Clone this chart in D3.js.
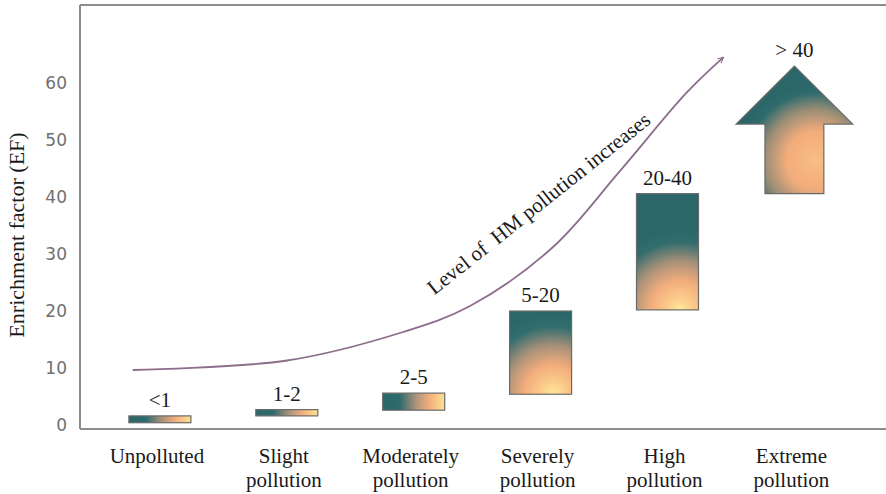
<!DOCTYPE html>
<html>
<head>
<meta charset="utf-8">
<script src="https://cdn.jsdelivr.net/npm/d3@7"></script>
<style>
  html, body { margin: 0; padding: 0; background: #fff; }
  svg { display: block; }
</style>
</head>
<body>
<svg id="chart" width="886" height="494"></svg>
<script>
// ---------------- data ----------------
const categories = ["Unpolluted", "Slight pollution", "Moderately pollution", "Severely pollution", "High pollution", "Extreme pollution"];
const categoryLines = [["Unpolluted"], ["Slight", "pollution"], ["Moderately", "pollution"], ["Severely", "pollution"], ["High", "pollution"], ["Extreme", "pollution"]];
const rangeLabels = ["<1", "1-2", "2-5", "5-20", "20-40", "> 40"];
const lowValues  = [0.4, 1.6, 2.6, 5.4, 20.2, 40.6];
const highValues = [1.6, 2.7, 5.6, 20.0, 40.6, 63.0];
const arrowHeadBase = 52.8;          // EF value where the arrow head starts (last category)
const yTicks = [0, 10, 20, 30, 40, 50, 60];
const yDomain = [-0.7, 73.7];
// trend curve: category position (index) and EF value of each point
const curveIdx = [-0.214, 1.002, 1.916, 2.444, 3.098, 3.626, 4.154, 4.440];
const curveEF  = [9.65, 11.32, 16.32, 20.88, 31.23, 44.6, 58.4, 64.52];
const curveText = "Level of  HM pollution increases";
const curveTextAt = [3.02, 37.9];
const yTitle = "Enrichment factor (EF)";

(function () {
// ---------------- layout ----------------
const svg = d3.select("#chart");
const mLeft = 80, mTop = 5, mBottom = 429, mRight = 886;
const serif = "'Liberation Serif', 'Times New Roman', Times, serif";

const x = d3.scaleBand().domain(categories).range([96.45, 857.85])
  .paddingInner(0.5114).paddingOuter(0.2557);
const y = d3.scaleLinear().domain(yDomain).range([mBottom, mTop]);
const bw = x.bandwidth();
const step = x.step();
const cx0 = x(categories[0]) + bw / 2;
const xPos = i => cx0 + i * step;

const defs = svg.append("defs");
const tallStops = [[0, "#fee89b"], [0.16, "#fbcb8a"], [0.36, "#f3ad7c"], [0.6, "#a99179"], [0.84, "#336d6e"], [1, "#2b6769"]];
const thinStops = [[0, "#2a6769"], [0.28, "#2f6b6d"], [0.55, "#b3957a"], [0.76, "#f4b07e"], [1, "#fce392"]];
const arrowStops = [[0, "#f8bd86"], [0.38, "#f2ac7b"], [0.66, "#9a8d76"], [0.88, "#2f6b6d"], [1, "#2b6769"]];
const addStops = (g, st) => st.forEach(s => g.append("stop").attr("offset", s[0]).attr("stop-color", s[1]));

defs.append("marker").attr("id", "arrowEnd")
  .attr("viewBox", "0 0 10 10").attr("refX", 9).attr("refY", 5)
  .attr("markerWidth", 7).attr("markerHeight", 7).attr("markerUnits", "userSpaceOnUse")
  .attr("orient", "auto")
  .append("path").attr("d", "M1,1 L9,5 L1,9").attr("fill", "none")
  .attr("stroke", "#8b6d8c").attr("stroke-width", 1.6);

// ---------------- frame ----------------
const frame = svg.append("g").attr("stroke", "#8d8d8d").attr("stroke-width", 2).attr("fill", "none");
frame.append("line").attr("x1", mLeft).attr("x2", mRight).attr("y1", mTop).attr("y2", mTop);
frame.append("line").attr("x1", mLeft).attr("x2", mLeft).attr("y1", mTop).attr("y2", mBottom);
frame.append("line").attr("x1", mLeft).attr("x2", mRight).attr("y1", mBottom).attr("y2", mBottom);

// ---------------- y axis ----------------
const yAxis = svg.append("g").attr("transform", `translate(${mLeft},0)`)
  .call(d3.axisLeft(y).tickValues(yTicks).tickSize(0).tickPadding(13));
yAxis.select(".domain").remove();
yAxis.selectAll("text").attr("font-family", "'DejaVu Sans', Verdana, sans-serif")
  .attr("font-size", 17).attr("fill", "#707070");

svg.append("text").attr("transform", `translate(24,${(mTop + mBottom) / 2 + 18}) rotate(-90)`)
  .attr("text-anchor", "middle").attr("font-family", serif).attr("font-size", 22)
  .attr("fill", "#1a1a1a").text(yTitle);

// ---------------- x labels ----------------
const xl = svg.append("g");
categories.forEach((c, i) => {
  const t = xl.append("text").attr("x", x(c) + bw / 2 - 3).attr("y", 463)
    .attr("text-anchor", "middle").attr("font-family", serif).attr("font-size", 21).attr("fill", "#1a1a1a");
  categoryLines[i].forEach((ln, j) => t.append("tspan").attr("x", x(c) + bw / 2 - 3)
    .attr("dy", j === 0 ? 0 : 24).text(ln));
});

// ---------------- bars ----------------
const barIdx = d3.range(categories.length - 1);
barIdx.forEach(i => {
  const x0 = x(categories[i]), y0 = y(highValues[i]), h = y(lowValues[i]) - y(highValues[i]);
  if (h < 25) {
    const g = defs.append("linearGradient").attr("id", "g" + i).attr("gradientUnits", "userSpaceOnUse")
      .attr("x1", x0).attr("x2", x0 + bw).attr("y1", y0).attr("y2", y0);
    addStops(g, thinStops);
  } else {
    const g = defs.append("radialGradient").attr("id", "g" + i).attr("gradientUnits", "userSpaceOnUse")
      .attr("cx", x0 + 0.7 * bw).attr("cy", y0 + h).attr("r", bw * 1.3)
      .attr("fx", x0 + 0.7 * bw).attr("fy", y0 + h);
    addStops(g, tallStops);
  }
});
svg.append("g").selectAll("rect").data(barIdx).join("rect")
  .attr("x", i => x(categories[i]))
  .attr("y", i => y(highValues[i]))
  .attr("width", bw)
  .attr("height", i => y(lowValues[i]) - y(highValues[i]))
  .attr("fill", i => `url(#g${i})`)
  .attr("stroke", "#6a6a6a").attr("stroke-width", 1.2);

// ---------------- arrow (last category) ----------------
const last = categories.length - 1;
const ac = x(categories[last]) + bw / 2;
const shaftW = bw * 0.95, headW = bw * 1.88;
const aTop = y(highValues[last]), aBot = y(lowValues[last]);
const aPts = [
  [ac - shaftW / 2, aBot],
  [ac - shaftW / 2, y(arrowHeadBase)],
  [ac - headW / 2, y(arrowHeadBase)],
  [ac, aTop],
  [ac + headW / 2, y(arrowHeadBase)],
  [ac + shaftW / 2, y(arrowHeadBase)],
  [ac + shaftW / 2, aBot]
];
const ag = defs.append("radialGradient").attr("id", "gArrow").attr("gradientUnits", "userSpaceOnUse")
  .attr("cx", ac - headW / 2 + 0.68 * headW).attr("cy", aTop + 0.74 * (aBot - aTop)).attr("r", headW * 0.66)
  .attr("fx", ac - headW / 2 + 0.68 * headW).attr("fy", aTop + 0.74 * (aBot - aTop));
addStops(ag, arrowStops);
svg.append("path").attr("d", d3.line()(aPts) + "Z")
  .attr("fill", "url(#gArrow)").attr("stroke", "#6a6a6a").attr("stroke-width", 1.2);

// ---------------- range labels ----------------
svg.append("g").selectAll("text").data(rangeLabels).join("text")
  .attr("x", (d, i) => x(categories[i]) + bw / 2)
  .attr("y", (d, i) => y(highValues[i]) - 9)
  .attr("text-anchor", "middle").attr("font-family", serif).attr("font-size", 21)
  .attr("fill", "#1a1a1a").text(d => d);

// ---------------- trend curve ----------------
const curvePts = curveIdx.map((v, i) => [xPos(v), y(curveEF[i])]);
svg.append("path").attr("d", d3.line().curve(d3.curveCatmullRom.alpha(0.5))(curvePts))
  .attr("fill", "none").attr("stroke", "#8b6d8c").attr("stroke-width", 1.8)
  .attr("marker-end", "url(#arrowEnd)");

svg.append("text")
  .attr("transform", `translate(${xPos(curveTextAt[0])},${y(curveTextAt[1])}) rotate(-38.5)`)
  .attr("text-anchor", "middle").attr("font-family", serif).attr("font-size", 21)
  .attr("fill", "#1a1a1a").attr("xml:space", "preserve").style("white-space", "pre")
  .text(curveText);
})();
</script>
</body>
</html>
